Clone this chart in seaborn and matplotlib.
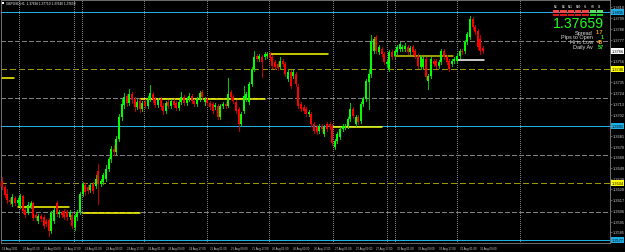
import numpy as np
import pandas as pd
import matplotlib
matplotlib.use("Agg")
import matplotlib.pyplot as plt
import seaborn as sns
from matplotlib.patches import Rectangle

# ---------------- data ----------------
symbol = "GBPUSD,H1"
opens = [1.3636, 1.3630, 1.3623, 1.3617, 1.3613, 1.3619, 1.3614, 1.3611, 1.3621, 1.3607,
         1.3604, 1.3611, 1.3614, 1.3602, 1.3596, 1.3601, 1.3600, 1.3596, 1.3597, 1.3586,
         1.3596, 1.3614, 1.3603, 1.3604, 1.3606, 1.3605, 1.3600, 1.3602, 1.3590, 1.3600,
         1.3605, 1.3623, 1.3632, 1.3630, 1.3627, 1.3633, 1.3631, 1.3646, 1.3633, 1.3635,
         1.3638, 1.3648, 1.3658, 1.3668, 1.3665, 1.3678, 1.3700, 1.3712, 1.3721, 1.3714,
         1.3723, 1.3718, 1.3710, 1.3716, 1.3708, 1.3715, 1.3711, 1.3718, 1.3723, 1.3718,
         1.3712, 1.3718, 1.3711, 1.3706, 1.3715, 1.3711, 1.3716, 1.3714, 1.3709, 1.3715,
         1.3720, 1.3714, 1.3718, 1.3721, 1.3716, 1.3713, 1.3718, 1.3725, 1.3715, 1.3718,
         1.3714, 1.3713, 1.3710, 1.3711, 1.3700, 1.3711, 1.3713, 1.3711, 1.3725, 1.3720,
         1.3715, 1.3708, 1.3693, 1.3706, 1.3718, 1.3715, 1.3733, 1.3748, 1.3761, 1.3758,
         1.3760, 1.3760, 1.3761, 1.3763, 1.3760, 1.3755, 1.3753, 1.3750, 1.3756, 1.3753,
         1.3738, 1.3745, 1.3741, 1.3743, 1.3730, 1.3713, 1.3710, 1.3708, 1.3703, 1.3703,
         1.3693, 1.3690, 1.3686, 1.3691, 1.3683, 1.3693, 1.3693, 1.3691, 1.3670, 1.3676,
         1.3680, 1.3688, 1.3690, 1.3691, 1.3698, 1.3708, 1.3693, 1.3700, 1.3696, 1.3713,
         1.3718, 1.3735, 1.3743, 1.3766, 1.3780, 1.3765, 1.3768, 1.3763, 1.3753, 1.3748,
         1.3765, 1.3761, 1.3765, 1.3768, 1.3768, 1.3768, 1.3770, 1.3765, 1.3770, 1.3766,
         1.3761, 1.3750, 1.3750, 1.3758, 1.3736, 1.3741, 1.3756, 1.3756, 1.3751, 1.3755,
         1.3766, 1.3760, 1.3756, 1.3753, 1.3756, 1.3756, 1.3761, 1.3766, 1.3766, 1.3775,
         1.3780, 1.3798, 1.3790, 1.3786, 1.3778, 1.3769]
highs = [1.3640, 1.3632, 1.3628, 1.3619, 1.3623, 1.3621, 1.3619, 1.3623, 1.3622, 1.3609,
         1.3615, 1.3616, 1.3615, 1.3604, 1.3603, 1.3603, 1.3602, 1.3598, 1.3599, 1.3606,
         1.3609, 1.3616, 1.3607, 1.3606, 1.3608, 1.3607, 1.3607, 1.3604, 1.3603, 1.3607,
         1.3625, 1.3635, 1.3634, 1.3632, 1.3634, 1.3635, 1.3642, 1.3653, 1.3638, 1.3644,
         1.3652, 1.3660, 1.3671, 1.3672, 1.3681, 1.3703, 1.3718, 1.3724, 1.3723, 1.3728,
         1.3725, 1.3720, 1.3718, 1.3718, 1.3716, 1.3718, 1.3721, 1.3732, 1.3725, 1.3720,
         1.3719, 1.3720, 1.3714, 1.3716, 1.3717, 1.3718, 1.3718, 1.3716, 1.3717, 1.3725,
         1.3722, 1.3720, 1.3724, 1.3723, 1.3718, 1.3720, 1.3726, 1.3727, 1.3720, 1.3720,
         1.3716, 1.3715, 1.3714, 1.3713, 1.3713, 1.3715, 1.3715, 1.3739, 1.3727, 1.3722,
         1.3717, 1.3710, 1.3705, 1.3731, 1.3725, 1.3735, 1.3750, 1.3766, 1.3763, 1.3763,
         1.3762, 1.3765, 1.3765, 1.3765, 1.3762, 1.3757, 1.3755, 1.3760, 1.3758, 1.3755,
         1.3748, 1.3747, 1.3747, 1.3745, 1.3733, 1.3715, 1.3712, 1.3710, 1.3707, 1.3705,
         1.3695, 1.3692, 1.3693, 1.3693, 1.3692, 1.3695, 1.3695, 1.3693, 1.3678, 1.3685,
         1.3690, 1.3693, 1.3693, 1.3700, 1.3714, 1.3710, 1.3702, 1.3702, 1.3715, 1.3720,
         1.3738, 1.3748, 1.3782, 1.3780, 1.3782, 1.3772, 1.3770, 1.3765, 1.3757, 1.3767,
         1.3767, 1.3768, 1.3772, 1.3775, 1.3772, 1.3774, 1.3772, 1.3771, 1.3772, 1.3768,
         1.3763, 1.3762, 1.3760, 1.3760, 1.3743, 1.3760, 1.3758, 1.3758, 1.3757, 1.3768,
         1.3768, 1.3762, 1.3758, 1.3758, 1.3760, 1.3763, 1.3768, 1.3768, 1.3777, 1.3785,
         1.3801, 1.3800, 1.3792, 1.3788, 1.3782, 1.3771]
lows = [1.3628, 1.3620, 1.3614, 1.3613, 1.3611, 1.3612, 1.3612, 1.3609, 1.3604, 1.3600,
        1.3603, 1.3609, 1.3597, 1.3597, 1.3594, 1.3596, 1.3589, 1.3591, 1.3581, 1.3584,
        1.3594, 1.3601, 1.3600, 1.3600, 1.3598, 1.3597, 1.3598, 1.3589, 1.3587, 1.3597,
        1.3603, 1.3621, 1.3622, 1.3624, 1.3625, 1.3624, 1.3629, 1.3613, 1.3631, 1.3633,
        1.3636, 1.3646, 1.3655, 1.3662, 1.3663, 1.3676, 1.3697, 1.3709, 1.3711, 1.3712,
        1.3714, 1.3706, 1.3708, 1.3705, 1.3706, 1.3709, 1.3709, 1.3716, 1.3715, 1.3710,
        1.3710, 1.3708, 1.3703, 1.3704, 1.3709, 1.3709, 1.3710, 1.3707, 1.3707, 1.3713,
        1.3712, 1.3712, 1.3716, 1.3714, 1.3711, 1.3711, 1.3716, 1.3718, 1.3712, 1.3712,
        1.3708, 1.3704, 1.3708, 1.3698, 1.3698, 1.3709, 1.3709, 1.3710, 1.3718, 1.3714,
        1.3704, 1.3686, 1.3691, 1.3704, 1.3716, 1.3713, 1.3731, 1.3746, 1.3756, 1.3756,
        1.3740, 1.3758, 1.3759, 1.3757, 1.3749, 1.3748, 1.3747, 1.3748, 1.3751, 1.3741,
        1.3736, 1.3729, 1.3739, 1.3731, 1.3709, 1.3706, 1.3704, 1.3701, 1.3701, 1.3691,
        1.3684, 1.3683, 1.3684, 1.3686, 1.3681, 1.3686, 1.3688, 1.3672, 1.3668, 1.3674,
        1.3678, 1.3686, 1.3688, 1.3689, 1.3696, 1.3699, 1.3691, 1.3693, 1.3694, 1.3711,
        1.3716, 1.3708, 1.3740, 1.3764, 1.3764, 1.3763, 1.3761, 1.3753, 1.3750, 1.3746,
        1.3758, 1.3759, 1.3763, 1.3766, 1.3766, 1.3766, 1.3763, 1.3763, 1.3763, 1.3759,
        1.3749, 1.3748, 1.3748, 1.3738, 1.3728, 1.3739, 1.3751, 1.3749, 1.3749, 1.3753,
        1.3758, 1.3753, 1.3746, 1.3751, 1.3754, 1.3754, 1.3759, 1.3763, 1.3764, 1.3773,
        1.3778, 1.3788, 1.3783, 1.3768, 1.3763, 1.3764]
closes = [1.3630, 1.3622, 1.3617, 1.3615, 1.3620, 1.3614, 1.3617, 1.3621, 1.3606, 1.3602,
          1.3612, 1.3614, 1.3599, 1.3599, 1.3601, 1.3598, 1.3591, 1.3593, 1.3586, 1.3604,
          1.3607, 1.3603, 1.3605, 1.3602, 1.3600, 1.3600, 1.3605, 1.3591, 1.3601, 1.3605,
          1.3623, 1.3633, 1.3625, 1.3626, 1.3632, 1.3626, 1.3638, 1.3633, 1.3636, 1.3642,
          1.3648, 1.3658, 1.3668, 1.3665, 1.3678, 1.3700, 1.3713, 1.3720, 1.3714, 1.3723,
          1.3717, 1.3710, 1.3715, 1.3708, 1.3714, 1.3711, 1.3718, 1.3724, 1.3718, 1.3712,
          1.3717, 1.3710, 1.3706, 1.3714, 1.3711, 1.3716, 1.3712, 1.3709, 1.3715, 1.3720,
          1.3714, 1.3718, 1.3721, 1.3716, 1.3713, 1.3718, 1.3724, 1.3720, 1.3718, 1.3714,
          1.3710, 1.3706, 1.3712, 1.3700, 1.3711, 1.3713, 1.3711, 1.3723, 1.3720, 1.3716,
          1.3706, 1.3693, 1.3703, 1.3721, 1.3723, 1.3733, 1.3748, 1.3760, 1.3758, 1.3761,
          1.3755, 1.3763, 1.3763, 1.3759, 1.3751, 1.3750, 1.3749, 1.3756, 1.3753, 1.3743,
          1.3745, 1.3731, 1.3745, 1.3733, 1.3711, 1.3708, 1.3706, 1.3703, 1.3705, 1.3693,
          1.3686, 1.3685, 1.3691, 1.3688, 1.3690, 1.3688, 1.3690, 1.3674, 1.3676, 1.3683,
          1.3688, 1.3691, 1.3691, 1.3698, 1.3708, 1.3701, 1.3700, 1.3695, 1.3713, 1.3718,
          1.3736, 1.3743, 1.3776, 1.3778, 1.3766, 1.3770, 1.3763, 1.3755, 1.3755, 1.3765,
          1.3760, 1.3766, 1.3770, 1.3773, 1.3770, 1.3771, 1.3765, 1.3769, 1.3765, 1.3761,
          1.3751, 1.3760, 1.3758, 1.3740, 1.3741, 1.3758, 1.3753, 1.3751, 1.3755, 1.3766,
          1.3760, 1.3755, 1.3748, 1.3756, 1.3758, 1.3761, 1.3766, 1.3765, 1.3775, 1.3783,
          1.3798, 1.3790, 1.3785, 1.3770, 1.3766, 1.37659]

time_labels = ["19 Aug 2021", "20 Aug 01:00", "20 Aug 09:00", "20 Aug 17:00",
               "23 Aug 01:00", "23 Aug 09:00", "23 Aug 17:00", "24 Aug 01:00",
               "24 Aug 09:00", "24 Aug 17:00", "25 Aug 01:00", "25 Aug 09:00",
               "25 Aug 17:00", "26 Aug 01:00", "26 Aug 09:00", "26 Aug 17:00",
               "27 Aug 01:00", "27 Aug 09:00", "27 Aug 17:00", "30 Aug 01:00",
               "30 Aug 09:00", "30 Aug 17:00", "31 Aug 01:00", "31 Aug 09:00"]
bars_per_label = 8

price_ticks = [1.3585, 1.3595, 1.3606, 1.3617, 1.3628, 1.3638, 1.3649,
               1.3660, 1.3670, 1.3681, 1.3702, 1.3713, 1.3724, 1.3735,
               1.3756, 1.3777, 1.3788, 1.3799, 1.3810]

cyan_levels = [1.3805, 1.3691, 1.3577]
gray_levels = [1.3776, 1.3719, 1.3662, 1.3605]
olive_levels = [1.3748, 1.3634]

# day / week separators (bar positions)
separators = [6.5, 27.7, 30.6, 54.6, 78.8, 102.7, 127.3, 148.1, 151.2, 175.0, 199.2]

# session high/low lines
seg_start = [-0.8, 6.2, 31.2, 53.1, 103.1, 127.3, 151.2, 175.4]
seg_end = [4.6, 25.8, 53.1, 101.2, 125.4, 146.2, 173.5, 185.4]
seg_level = [1.3739, 1.3610, 1.3604, 1.3718, 1.3763, 1.3690, 1.3761, 1.3757]
seg_color = ["#ffff00", "#ffff00", "#ffff00", "#ffff00", "#ffff00", "#ffff00", "#c8c800", "#ffffff"]

# info panel
tf_names = ["M1", "M5", "M15", "M30", "H1", "H4", "D1"]
trend_row1 = [-1, -1, -1, -1, -1, 1, 1]
trend_row2 = [-1, -1, -1, -1, -1, 1, 1]
spread = "1.7"
pips_to_open = "1"
hi_to_low = "45"
daily_avg = "57"

# ---------------- style ----------------
W, H = 625, 253
sns.set_theme(style="dark", rc={"axes.facecolor": "black", "figure.facecolor": "black"})
plt.rcParams["font.family"] = ["Liberation Sans", "DejaVu Sans"]
plt.rcParams["lines.scale_dashes"] = False

BULL = "#00ff00"
BEAR = "#ff0000"
WICK_UP = "#00c800"
WICK_DN = "#c00000"
GRAY = "#808080"
CYAN = "#1eaee6"
OLIVE = "#9a9a00"
LABEL = "#d0d0d0"

fig = plt.figure(figsize=(W / 100, H / 100), dpi=100)
fig.patch.set_facecolor("black")
ax = fig.add_axes([1 / W, 9 / H, 609 / W, 243 / H])
ax.set_facecolor("black")

o = np.array(opens); c = np.array(closes)
h = np.maximum(np.array(highs), np.maximum(o, c))
l = np.minimum(np.array(lows), np.minimum(o, c))
x = np.arange(len(o))
up = c >= o

# levels
for y in gray_levels:
    ax.axhline(y, color=GRAY, lw=0.72, dashes=(2.9, 1.5), antialiased=False, zorder=1)
for y in olive_levels:
    ax.axhline(y, color=OLIVE, lw=0.72, dashes=(4.3, 2.2), antialiased=False, zorder=1)
for y in cyan_levels:
    ax.axhline(y, color=CYAN, lw=0.72, antialiased=False, zorder=1)
for sx in separators:
    ax.axvline(sx, color=GRAY, lw=0.72, dashes=(0.72, 0.9), antialiased=False, zorder=1)

# session lines via seaborn
rows = []
for k, (a, b, lv) in enumerate(zip(seg_start, seg_end, seg_level)):
    rows.append({"seg": k, "x": a, "y": lv})
    rows.append({"seg": k, "x": b, "y": lv})
seg_df = pd.DataFrame(rows)
sns.lineplot(data=seg_df, x="x", y="y", hue="seg", palette=dict(enumerate(seg_color)),
             estimator=None, units="seg", legend=False, lw=1.1, ax=ax, zorder=2)

# candles
ax.vlines(x[up], l[up], h[up], color=WICK_UP, lw=0.72, antialiased=False, zorder=3)
ax.vlines(x[~up], l[~up], h[~up], color=WICK_DN, lw=0.72, antialiased=False, zorder=3)
body_b = np.minimum(o, c)
body_h = np.maximum(np.abs(c - o), 0.00008)
ax.bar(x[up], body_h[up], bottom=body_b[up], width=0.74, color=BULL, linewidth=0,
       antialiased=False, zorder=4)
ax.bar(x[~up], body_h[~up], bottom=body_b[~up], width=0.74, color=BEAR, linewidth=0,
       antialiased=False, zorder=4)

ax.set_xlim(-0.385, 233.85)
ax.set_ylim(1.3574, 1.3817)
ax.set_xlabel("")
ax.set_ylabel("")
ax.grid(False)

# axes
for sp in ax.spines.values():
    sp.set_visible(True)
    sp.set_color(GRAY)
    sp.set_linewidth(0.6)
ax.yaxis.tick_right()
ax.set_yticks(price_ticks)
ax.set_yticklabels([f"{p:.4f}" for p in price_ticks])
ax.tick_params(axis="y", colors=GRAY, labelcolor=LABEL, labelsize=2.8, length=1.2,
               width=0.5, pad=0.8)
ax.set_xticks([i * bars_per_label for i in range(len(time_labels))])
ax.set_xticklabels(time_labels, ha="left")
ax.tick_params(axis="x", colors=GRAY, labelcolor=LABEL, labelsize=2.0, length=1.5,
               width=0.5, pad=0.8)

# highlighted price tags on axis
def tag(price, fc, txt=None):
    ax.text(1.0022, price, txt if txt else f"{price:.4f}", transform=ax.get_yaxis_transform(),
            ha="left", va="center", fontsize=2.8, color="black", clip_on=False, zorder=20,
            bbox=dict(boxstyle="square,pad=0.2", fc=fc, ec="none"))

for y in cyan_levels:
    tag(y, CYAN)
for y in olive_levels:
    tag(y, "#ffff00")
tag(closes[-1], "#ffffff", f"{closes[-1]:.4f}")

# title
def fx(px):
    return px / W

def fy(py):
    return 1 - py / H

fig.patches.append(Rectangle((fx(2), fy(5)), 2 / W, 2 / H, transform=fig.transFigure,
                             fc="white", ec="none"))
fig.text(fx(6), fy(3.6), f"{symbol}  {opens[-1]:.5f} {highs[-1]:.5f} {lows[-1]:.5f} {closes[-1]:.5f}",
         color="white", fontsize=2.3, ha="left", va="center")

# info panel: trend cells
cell_x0 = [553, 560.3, 567.6, 574.9, 582.2, 589.5, 596.8]
for k, name in enumerate(tf_names):
    fig.text(fx(cell_x0[k] + 3), fy(7), name, color="white", fontsize=1.9,
             ha="center", va="center")
    c1 = "#f04848" if trend_row1[k] < 0 else "#60e060"
    c2 = "#d81818" if trend_row2[k] < 0 else "#18c818"
    fig.patches.append(Rectangle((fx(cell_x0[k]), fy(13.5)), 6.3 / W, 3 / H,
                                 transform=fig.transFigure, fc=c1, ec="none", zorder=10))
    fig.patches.append(Rectangle((fx(cell_x0[k]), fy(17)), 6.3 / W, 2.5 / H,
                                 transform=fig.transFigure, fc=c2, ec="none", zorder=10))

fig.text(fx(603.5), fy(24.5), f"{closes[-1]:.5f}", color="#22ff22", fontsize=10.2,
         ha="right", va="center")

info_rows = [("Spread", spread, "#f0a020"), ("Pips to Open", pips_to_open, "#22ee22"),
             ("Hi to Low", hi_to_low, "#f0a020"), ("Daily Av", daily_avg, "#22ee22")]
for r, (lab, val, col) in enumerate(info_rows):
    yy = 33 + r * 4.8
    fig.text(fx(593), fy(yy), lab, color="#e0e0e0", fontsize=4.0, ha="right", va="center")
    fig.text(fx(603.5), fy(yy), val, color=col, fontsize=4.0, ha="right", va="center",
             fontweight="bold")

fig.savefig("out.png", dpi=100, facecolor="black")
